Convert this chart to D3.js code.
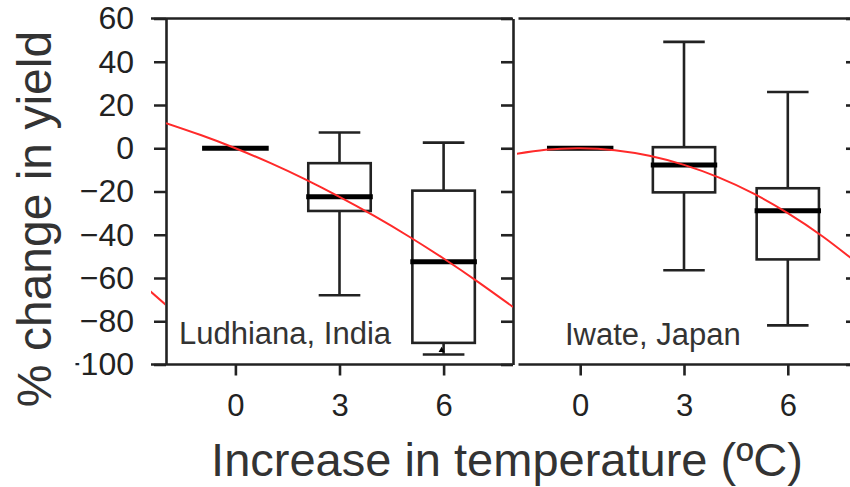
<!DOCTYPE html>
<html>
<head>
<meta charset="utf-8">
<script src="https://cdn.jsdelivr.net/npm/d3@7"></script>
<style>
  html, body { margin: 0; padding: 0; background: #fff; }
  svg { display: block; font-family: "Liberation Sans", Arial, Helvetica, sans-serif; }
</style>
</head>
<body>
<svg id="chart" width="850" height="487"></svg>
<script>
// Warming levels (ºC) at which yield changes were simulated
const temps = [0, 3, 6];
const yTickValues = [60, 40, 20, 0, -20, -40, -60, -80, -100];
const siteNames = ["Ludhiana, India", "Iwate, Japan"];

// Box-plot statistics (% change in yield) for each warming level
const ludhianaUpper  = [0, 7.3, 2.6];
const ludhianaQ3     = [0, -6.9, -19.6];
const ludhianaMedian = [0, -22.4, -52.5];
const ludhianaQ1     = [0, -29, -90];
const ludhianaLower  = [0, -68, -95.4];
const ludhianaOutliers = [[6, -93.4]];

const iwateUpper  = [0, 49.2, 26];
const iwateQ3     = [0, 0.5, -18.5];
const iwateMedian = [0, -7.7, -28.9];
const iwateQ1     = [0, -20.4, -51.4];
const iwateLower  = [0, -56.4, -81.9];
const iwateOutliers = [];

// Fitted response curves (red)
const fitTemps    = [-2, -1, 0, 1, 2, 3, 4, 5, 6, 7, 8];
const ludhianaFit = [11.6, 6.1, 0, -6.8, -14.3, -22.5, -31.3, -40.8, -51, -61.9, -73.4];
const iwateFit    = [-3.0, -0.7, 0, -0.9, -3.5, -7.7, -13.5, -20.9, -30, -40.7, -53];
// tail of the neighbouring panel's fitted curve, seen in the left gutter
const gutterFitTemps = [7.5, 8];
const gutterFit      = [-65.5, -72.5];

const svg = d3.select("#chart");
const ink = "#222";
const textInk = "#333";
const fitRed = "#ff2a2a";
const lw = 2.6;

const y = d3.scaleLinear().domain([-100, 60]).range([364.5, 18.5]);

const panels = [
  { name: siteNames[0], range: [166, 513], frame: [151, 512.5], clip: [166, 513],
    upper: ludhianaUpper, q3: ludhianaQ3, median: ludhianaMedian, q1: ludhianaQ1, lower: ludhianaLower,
    outliers: ludhianaOutliers, fit: ludhianaFit, labelX: 179, labelY: 344 },
  { name: siteNames[1], range: [511, 857], frame: [518.5, 850], clip: [517, 850],
    upper: iwateUpper, q3: iwateQ3, median: iwateMedian, q1: iwateQ1, lower: iwateLower,
    outliers: iwateOutliers, fit: iwateFit, labelX: 565, labelY: 345 }
];

const defs = svg.append("defs");

// ---- panel frames (top and bottom rules) ----
panels.forEach(p => {
  [y(60), y(-100)].forEach(yy => {
    svg.append("line")
      .attr("x1", p.frame[0]).attr("x2", p.frame[1])
      .attr("y1", yy).attr("y2", yy)
      .attr("stroke", ink).attr("stroke-width", lw);
  });
});

// ---- vertical axes: left axis with labels, shared border and right-edge axis ----
defs.append("clipPath").attr("id", "ylabClip")
  .append("rect").attr("x", 75.5).attr("y", 0).attr("width", 800).attr("height", 487);

function vAxis(xPos, withLabels) {
  const ax = d3.axisLeft(y).tickValues(yTickValues).tickSize(12).tickSizeOuter(0)
    .tickPadding(20).tickFormat(withLabels ? d3.format("d") : "");
  const wrap = svg.append("g");
  const g = wrap.append("g").attr("transform", `translate(${xPos},0)`).call(ax);
  g.selectAll("path.domain").attr("stroke", ink).attr("stroke-width", lw);
  g.selectAll(".tick line").attr("stroke", ink).attr("stroke-width", lw);
  g.selectAll(".tick text")
    .attr("fill", ink).attr("font-size", 32)
    .attr("font-family", "'Liberation Sans', Arial, sans-serif");
  return wrap;
}
vAxis(166, true).attr("clip-path", "url(#ylabClip)");
vAxis(513, false);
vAxis(858, false);

// ---- each panel ----
panels.forEach((p, pi) => {
  const x = d3.scaleLinear().domain([-2, 8]).range(p.range);

  // x axis ticks and labels
  const xa = d3.axisBottom(x).tickValues(temps).tickSize(11).tickSizeOuter(0).tickPadding(18);
  const gx = svg.append("g").attr("transform", `translate(0,${y(-100)})`).call(xa);
  gx.select("path.domain").remove();
  gx.selectAll(".tick line").attr("stroke", ink).attr("stroke-width", lw);
  gx.selectAll(".tick text").attr("fill", ink).attr("font-size", 31)
    .attr("font-family", "'Liberation Sans', Arial, sans-serif");

  const g = svg.append("g");
  const capHalf = 0.6, boxHalf = 0.9, medHalf = 0.96;

  temps.forEach((t, i) => {
    const cx = x(t);
    const flat = p.upper[i] === p.lower[i];
    if (!flat) {
      // whiskers
      g.append("line").attr("x1", cx).attr("x2", cx)
        .attr("y1", y(p.upper[i])).attr("y2", y(p.q3[i]))
        .attr("stroke", ink).attr("stroke-width", lw);
      g.append("line").attr("x1", cx).attr("x2", cx)
        .attr("y1", y(p.q1[i])).attr("y2", y(p.lower[i]))
        .attr("stroke", ink).attr("stroke-width", lw);
      [p.upper[i], p.lower[i]].forEach(v => {
        g.append("line")
          .attr("x1", x(t - capHalf)).attr("x2", x(t + capHalf))
          .attr("y1", y(v)).attr("y2", y(v))
          .attr("stroke", ink).attr("stroke-width", lw);
      });
      // box
      g.append("rect")
        .attr("x", x(t - boxHalf)).attr("width", x(t + boxHalf) - x(t - boxHalf))
        .attr("y", y(p.q3[i])).attr("height", y(p.q1[i]) - y(p.q3[i]))
        .attr("fill", "#fff").attr("stroke", ink).attr("stroke-width", lw);
    }
    // median
    g.append("line")
      .attr("x1", x(t - medHalf)).attr("x2", x(t + medHalf))
      .attr("y1", y(p.median[i])).attr("y2", y(p.median[i]))
      .attr("stroke", "#000").attr("stroke-width", 5);
  });

  // outlier markers
  p.outliers.forEach(o => {
    g.append("path")
      .attr("transform", `translate(${x(o[0]) - 2},${y(o[1])})`)
      .attr("d", d3.symbol(d3.symbolTriangle, 16)())
      .attr("fill", "#000");
  });

  // fitted curve, clipped to the panel
  const cid = "fitClip" + pi;
  defs.append("clipPath").attr("id", cid).append("rect")
    .attr("x", p.clip[0]).attr("y", y(60)).attr("width", p.clip[1] - p.clip[0])
    .attr("height", y(-100) - y(60));
  const line = d3.line().x(d => x(d[0])).y(d => y(d[1])).curve(d3.curveNatural);
  svg.append("path")
    .datum(fitTemps.map((t, i) => [t, p.fit[i]]))
    .attr("d", line)
    .attr("clip-path", `url(#${cid})`)
    .attr("fill", "none").attr("stroke", fitRed).attr("stroke-width", 2);

  // site label
  svg.append("text")
    .attr("x", p.labelX).attr("y", p.labelY)
    .attr("font-size", 31).attr("fill", textInk)
    .text(p.name);
});

// neighbouring panel's curve tail in the left gutter
{
  const xg = d3.scaleLinear().domain([-2, 8]).range([166 - 347, 166]);
  defs.append("clipPath").attr("id", "gutterClip").append("rect")
    .attr("x", 151).attr("y", 0).attr("width", 14).attr("height", 487);
  svg.append("path")
    .datum(gutterFitTemps.map((t, i) => [t, gutterFit[i]]))
    .attr("d", d3.line().x(d => xg(d[0])).y(d => y(d[1])))
    .attr("clip-path", "url(#gutterClip)")
    .attr("fill", "none").attr("stroke", fitRed).attr("stroke-width", 2);
}

// axis titles
svg.append("text")
  .attr("x", 507).attr("y", 476)
  .attr("text-anchor", "middle")
  .attr("font-size", 47).attr("fill", textInk)
  .text("Increase in temperature (ºC)");

svg.append("text")
  .attr("transform", "translate(51,219) rotate(-90)")
  .attr("text-anchor", "middle")
  .attr("font-size", 48).attr("fill", textInk)
  .text("% change in yield");
</script>
</body>
</html>
